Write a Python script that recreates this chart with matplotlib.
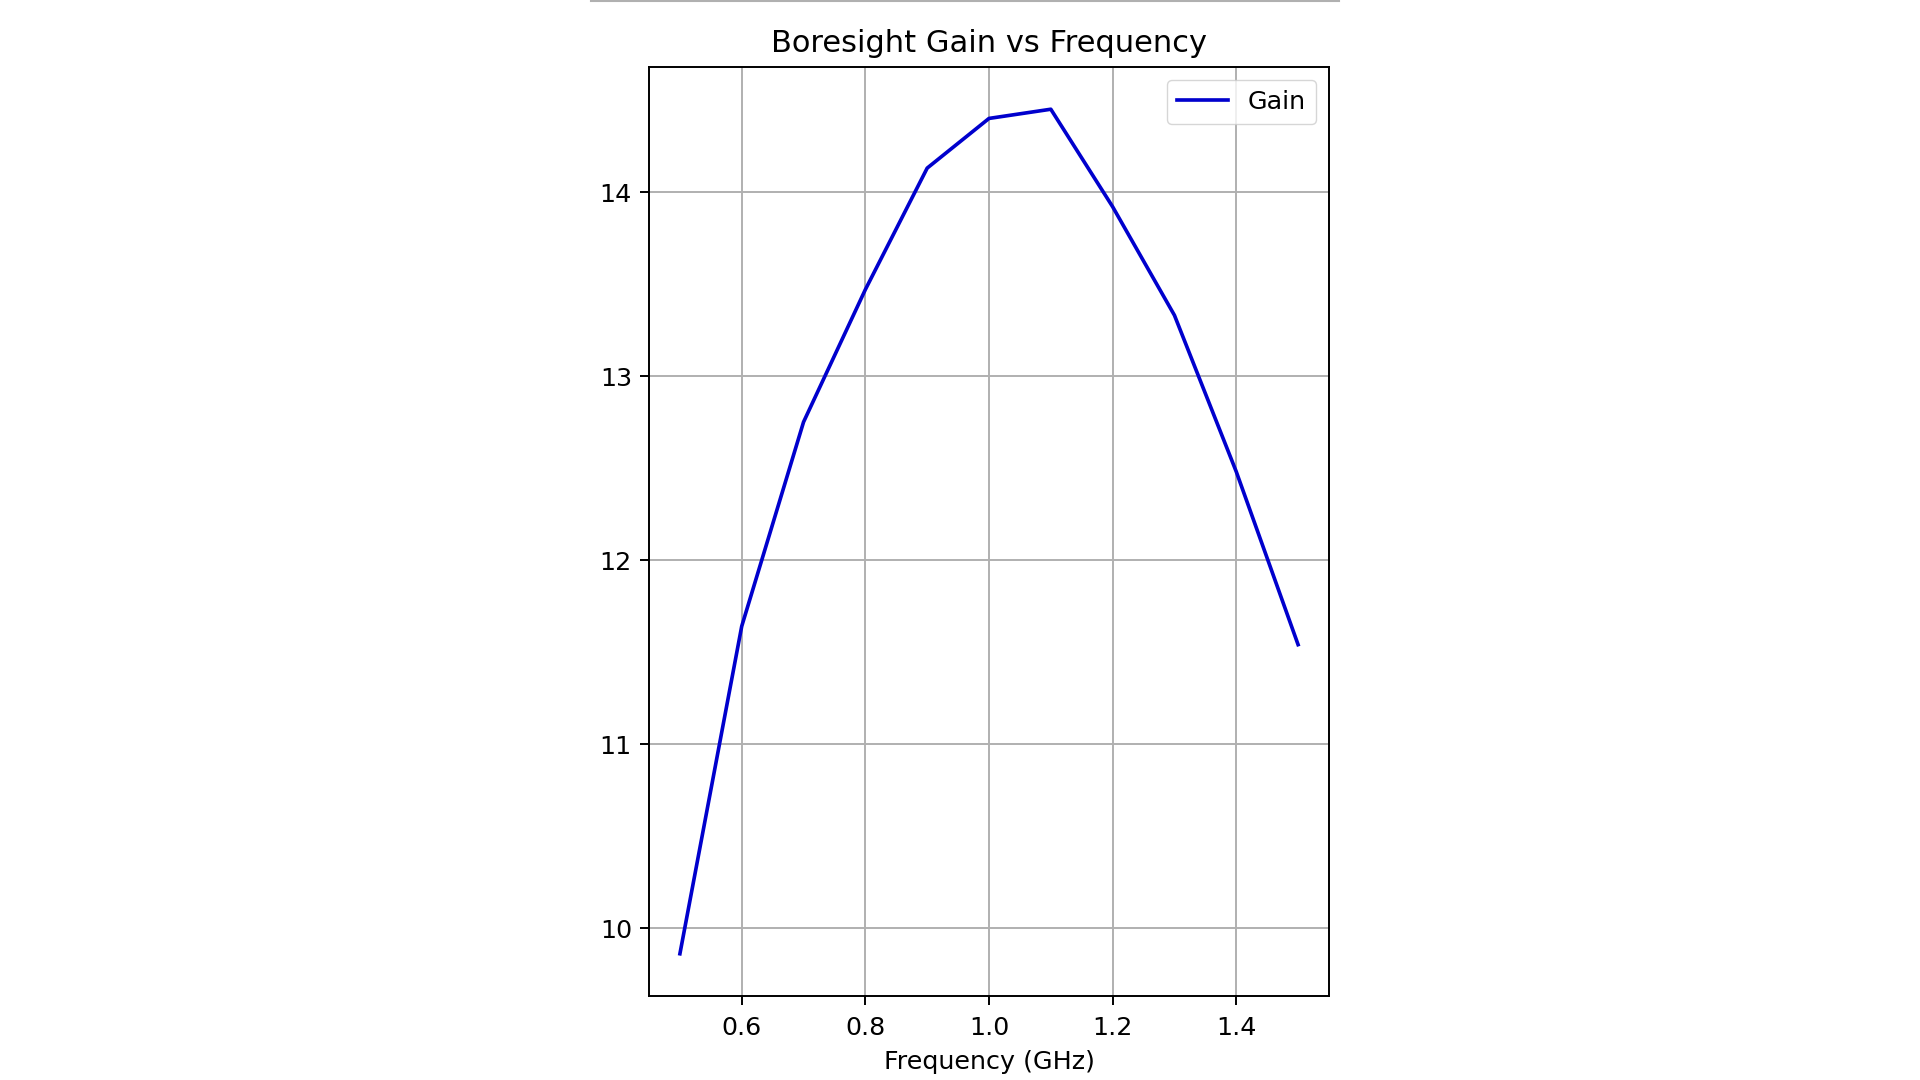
import matplotlib
matplotlib.use("Agg")
import matplotlib.pyplot as plt
from matplotlib.lines import Line2D

# Datos
freq_ghz = [0.5, 0.6, 0.7, 0.8, 0.9, 1.0, 1.1, 1.2, 1.3, 1.4, 1.5]
gain_db = [9.86, 11.64, 12.75, 13.47, 14.13, 14.40, 14.45, 13.92, 13.33, 12.48, 11.54]

s = 1.75   # escala de líneas respecto al estilo por defecto
t = 1.83   # escala de textos

plt.rcParams['font.family'] = ['DejaVu Sans']
plt.rcParams['font.size'] = 10 * t

W, H = 1920, 1080
fig = plt.figure(figsize=(19.2, 10.8), dpi=100)
ax = fig.add_axes([649 / W, 1 - 996 / H, (1329 - 649) / W, (996 - 67) / H])

ax.plot(freq_ghz, gain_db, color='mediumblue', linewidth=1.5 * s, label='Gain')
ax.set_title('Boresight Gain vs Frequency', fontsize=12 * t, pad=10.5)
ax.set_xlabel('Frequency (GHz)', fontsize=10 * t, labelpad=7.5)
ax.grid(True, color='#b0b0b0', linewidth=0.8 * s)
ax.tick_params(labelsize=10 * t, length=3.5 * s, width=0.8 * s, pad=3.5 * s)
ax.tick_params(axis='x', pad=8)
for sp in ax.spines.values():
    sp.set_linewidth(0.8 * s)
ax.legend(loc='upper right', fontsize=10 * t, handlelength=2.0, borderpad=0.4,
          framealpha=0.8, edgecolor='#cccccc')

# línea gris en el borde superior
fig.add_artist(Line2D([591 / W, 1339 / W], [1 - 0.8 / H, 1 - 0.8 / H],
                      color='#b0b0b0', linewidth=1.5))

fig.savefig('out.png', dpi=100)
